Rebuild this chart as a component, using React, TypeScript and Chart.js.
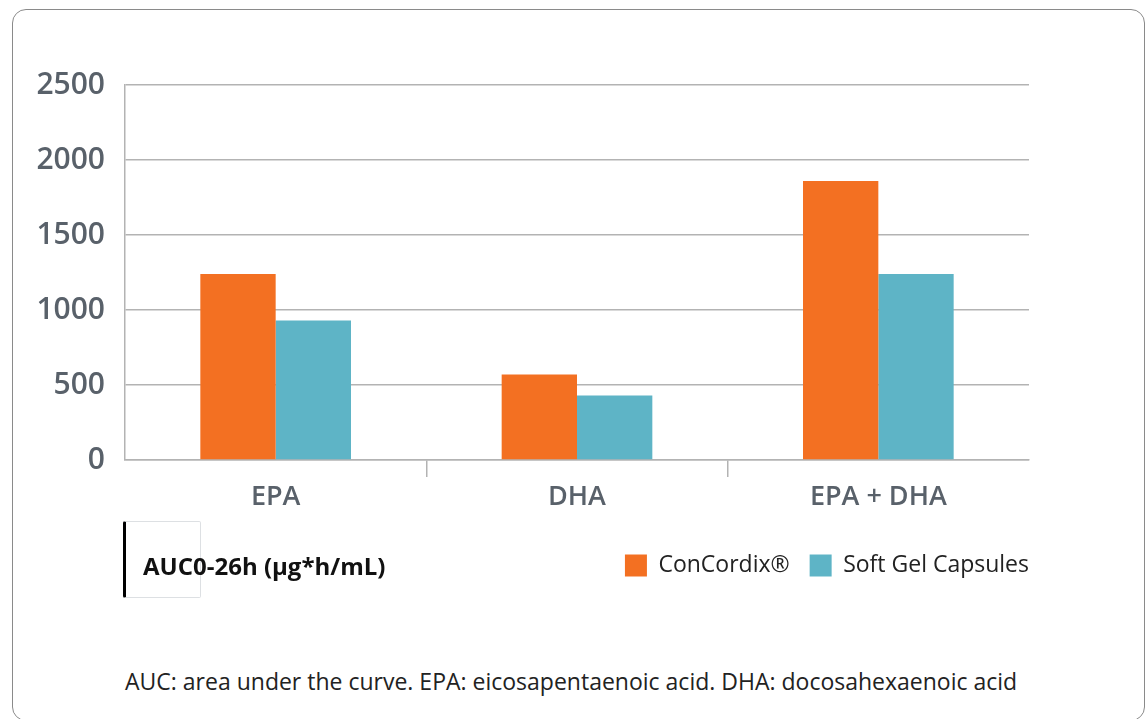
import React, { useEffect, useRef } from "react";
import { Chart, registerables } from "chart.js";

Chart.register(...registerables);

const categories = ["EPA", "DHA", "EPA + DHA"];
const concordixValues = [1240, 570, 1860];
const softGelValues = [930, 430, 1240];
const seriesLabels = ["ConCordix®", "Soft Gel Capsules"];
const yTicks = [0, 500, 1000, 1500, 2000, 2500];
const axisTitle = "AUC0-26h (µg*h/mL)";
const footnote = "AUC: area under the curve. EPA: eicosapentaenoic acid. DHA: docosahexaenoic acid";

const ORANGE = "#F37022";
const TEAL = "#5EB4C6";
const GRID = "#b3b3b3";
const FONT = "'Open Sans', sans-serif";

const legendShift = {
  id: "legendShift",
  afterLayout(chart: any) {
    if (chart.legend) {
      chart.legend.left += 20;
      chart.legend.right += 20;
      chart.legend.top += 2;
      chart.legend.bottom += 2;
    }
  },
};

export default function App() {
  const canvasRef = useRef<HTMLCanvasElement | null>(null);

  useEffect(() => {
    document.body.style.margin = "0";
    const canvas = canvasRef.current;
    if (!canvas) return;
    const chart = new Chart(canvas, {
      type: "bar",
      data: {
        labels: categories,
        datasets: [
          {
            label: seriesLabels[0],
            data: concordixValues,
            backgroundColor: ORANGE,
            borderWidth: 0,
            categoryPercentage: 0.5,
            barPercentage: 1.0,
          },
          {
            label: seriesLabels[1],
            data: softGelValues,
            backgroundColor: TEAL,
            borderWidth: 0,
            categoryPercentage: 0.5,
            barPercentage: 1.0,
          },
        ],
      },
      plugins: [legendShift],
      options: {
        responsive: false,
        animation: false,
        maintainAspectRatio: false,
        layout: { padding: { top: 85, right: 118, bottom: 0, left: 0 } },
        plugins: {
          tooltip: { enabled: false },
          legend: {
            position: "bottom",
            align: "end",
            labels: {
              boxWidth: 22,
              boxHeight: 22,
              padding: 20,
              color: "#222222",
              font: { family: FONT, size: 23 },
            },
          },
        },
        scales: {
          y: {
            min: yTicks[0],
            max: yTicks[yTicks.length - 1],
            afterBuildTicks: (scale: any) => {
              scale.ticks = yTicks.map((v) => ({ value: v }));
            },
            afterFit: (scale: any) => {
              scale.width = 125;
            },
            ticks: {
              color: "#59616a",
              padding: 20,
              callback: (v: any) => String(v),
              font: { family: FONT, size: 30, weight: "600" as any },
            },
            grid: { color: GRID, lineWidth: 1.5, drawTicks: false },
            border: { display: true, color: GRID, width: 1.5 },
          },
          x: {
            offset: true,
            afterFit: (scale: any) => {
              scale.height = 72;
            },
            ticks: {
              color: "#59616a",
              padding: 4,
              font: { family: FONT, size: 27, weight: "600" as any },
            },
            grid: {
              offset: true,
              drawOnChartArea: false,
              tickLength: 17,
              lineWidth: 1.5,
              color: (ctx: any) =>
                ctx.index === 1 || ctx.index === 2 ? GRID : "rgba(0,0,0,0)",
            },
            border: { display: true, color: GRID, width: 1.5 },
          },
        },
      },
    });
    return () => chart.destroy();
  }, []);

  return (
    <div style={{ position: "relative", width: 1147, height: 719, overflow: "hidden", background: "#fff" }}>
      <div
        style={{
          position: "absolute",
          left: 12,
          top: 9,
          width: 1133,
          height: 712,
          border: "1.5px solid #8a8a8a",
          borderRadius: 14,
          boxSizing: "border-box",
        }}
      />
      <canvas
        ref={canvasRef}
        width={1147}
        height={585}
        style={{ position: "absolute", left: 0, top: 0, width: 1147, height: 585 }}
      />
      <div
        style={{
          position: "absolute",
          left: 123,
          top: 521,
          width: 78,
          height: 77,
          boxSizing: "border-box",
          borderTop: "1.5px solid #dde0e3",
          borderRight: "1.5px solid #dde0e3",
          borderBottom: "1.5px solid #dde0e3",
          borderLeft: "3.5px solid #000",
          borderRadius: 2,
        }}
      />
      <div
        style={{
          position: "absolute",
          left: 143,
          top: 551,
          fontFamily: FONT,
          fontSize: 24,
          fontWeight: 700,
          color: "#111",
          lineHeight: "30px",
          whiteSpace: "nowrap",
        }}
      >
        {axisTitle}
      </div>
      <div
        style={{
          position: "absolute",
          left: 125,
          top: 666,
          fontFamily: FONT,
          fontSize: 23,
          color: "#222",
          lineHeight: "30px",
          whiteSpace: "nowrap",
        }}
      >
        {footnote}
      </div>
    </div>
  );
}
